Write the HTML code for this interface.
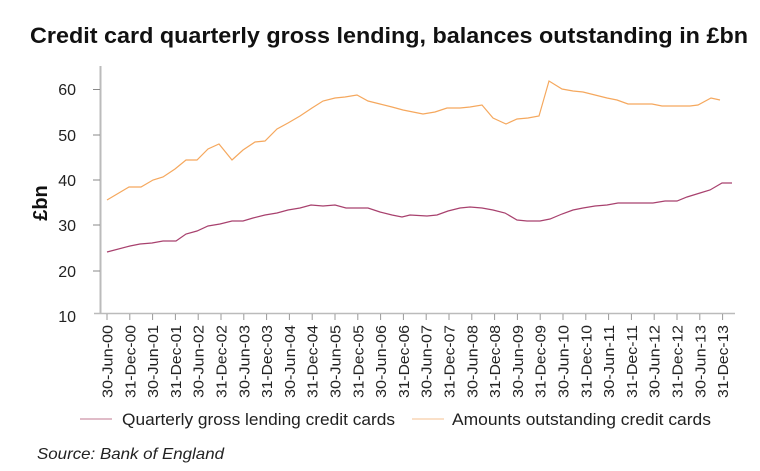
<!DOCTYPE html>
<html><head><meta charset="utf-8"><style>
body{margin:0;background:#fff;width:760px;height:466px;overflow:hidden;font-family:"Liberation Sans",sans-serif}
</style></head><body>
<svg width="760" height="466" xmlns="http://www.w3.org/2000/svg" font-family="Liberation Sans, sans-serif">
<text x="30" y="43" font-size="22" font-weight="bold" fill="#111" textLength="718" lengthAdjust="spacingAndGlyphs">Credit card quarterly gross lending, balances outstanding in £bn</text>
<text transform="translate(47,203) rotate(-90)" text-anchor="middle" font-size="20" font-weight="bold" fill="#111">£bn</text>
<line x1="100.5" y1="66" x2="100.5" y2="314" stroke="#bbb" stroke-width="2"/>
<line x1="94" y1="313.5" x2="735" y2="313.5" stroke="#bbb" stroke-width="1.5"/>
<g stroke="#888" stroke-width="1">
<line x1="93" y1="89.5" x2="100" y2="89.5"/><line x1="93" y1="135" x2="100" y2="135"/><line x1="93" y1="180" x2="100" y2="180"/><line x1="93" y1="225" x2="100" y2="225"/><line x1="93" y1="271" x2="100" y2="271"/>
</g>
<g font-size="16" fill="#222" text-anchor="end">
<text x="76" y="95">60</text><text x="76" y="141">50</text><text x="76" y="186">40</text><text x="76" y="231">30</text><text x="76" y="277">20</text><text x="76" y="322">10</text>
</g>
<g id="xt" font-size="15" fill="#222"></g>
<polyline fill="none" stroke="#f5a85e" stroke-width="1.2" points="107,200 129,187 141,187 153,180 163,177 175,169 186,160 197,160 208,149 219,144 232,160 243,150 255,142 265,141 277,129 288,123 300,116 312,108 323,101 335,98 345,97 357,95 368,101 380,104 392,107 403,110 418,113 423,114 435,112 447,108 460,108 470,107 482,105 493,118 506,124 517,119 528,118 539,116 549,81 562,89 573,91 583,92 595,95 607,98 617,100 628,104 652,104 662,106 690,106 698,105 711,98 720,100"/>
<polyline fill="none" stroke="#a8416e" stroke-width="1.2" points="107,252 130,246 140,244 152,243 163,241 176,241 186,234 197,231 208,226 220,224 232,221 243,221 253,218 265,215 277,213 288,210 300,208 311,205 323,206 335,205 346,208 368,208 380,212 392,215 402,217 410,215 427,216 437,215 448,211 460,208 470,207 482,208 493,210 505,213 517,220 527,221 540,221 550,219 562,214 573,210 583,208 595,206 607,205 618,203 653,203 665,201 677,201 687,197 700,193 710,190 722,183 732,183"/>
<line x1="80" y1="419" x2="112" y2="419" stroke="#c07890" stroke-width="1"/>
<text x="122" y="425" font-size="17" fill="#222" textLength="273" lengthAdjust="spacingAndGlyphs">Quarterly gross lending credit cards</text>
<line x1="412" y1="419" x2="444" y2="419" stroke="#f5c090" stroke-width="1"/>
<text x="452" y="425" font-size="17" fill="#222" textLength="259" lengthAdjust="spacingAndGlyphs">Amounts outstanding credit cards</text>
<text x="37" y="459" font-size="16" font-style="italic" fill="#222" textLength="187" lengthAdjust="spacingAndGlyphs">Source: Bank of England</text>
</svg>
<script>
var g=document.getElementById('xt'),ns="http://www.w3.org/2000/svg";
for(var i=0;i<28;i++){var x=107+i*22.8;
var lab=(i%2==0?"30-Jun-":"31-Dec-")+(i%2==0?String(2000+i/2).slice(2):String(2000+(i-1)/2).slice(2));
var l=document.createElementNS(ns,'line');l.setAttribute('x1',x);l.setAttribute('x2',x);l.setAttribute('y1',314);l.setAttribute('y2',320);l.setAttribute('stroke','#999');g.appendChild(l);
var t=document.createElementNS(ns,'text');t.setAttribute('transform','translate('+(x+5.5)+',325) rotate(-90)');t.setAttribute('text-anchor','end');t.setAttribute('textLength','73');t.setAttribute('lengthAdjust','spacingAndGlyphs');t.textContent=lab;g.appendChild(t);}
</script>
</body></html>
